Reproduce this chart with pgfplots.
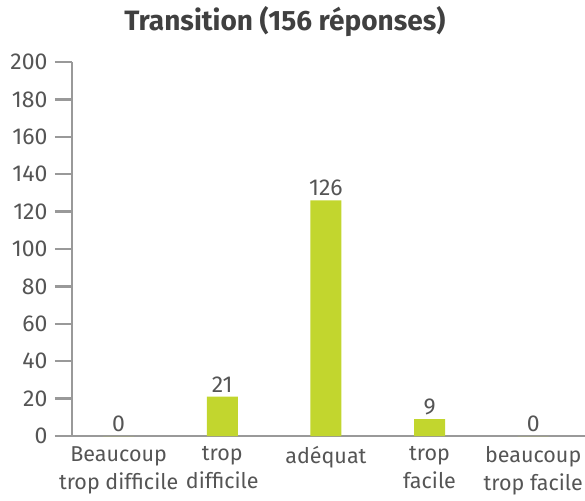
\documentclass[border=0pt]{standalone}
\usepackage{fontspec}
\setmainfont{Fira Sans}
\usepackage{pgfplots}
\pgfplotsset{compat=1.18}
\definecolor{bargreen}{HTML}{C2D62E}
\definecolor{axgray}{HTML}{999999}
\definecolor{txtgray}{HTML}{555555}
\definecolor{titlegray}{HTML}{404040}
\begin{document}
\begin{tikzpicture}
\useasboundingbox (-72pt,-64pt) rectangle (513pt,436pt);
\begin{axis}[
  at={(0,0)}, anchor=south west,
  scale only axis,
  width=513pt, height=374pt,
  xmin=-0.45, xmax=4.5,
  ymin=0, ymax=200,
  ytick={0,20,...,200},
  xtick={0,1,2,3,4},
  xticklabels={{Beaucoup\\trop difficile},{trop\\difficile},{adéquat},{trop\\facile},{beaucoup\\trop facile}},
  x tick label style={align=center, text=txtgray, font=\fontsize{21.5}{28}\selectfont, anchor=north, yshift=10pt},
  y tick label style={text=txtgray, font=\fontsize{23}{26}\selectfont, xshift=-4pt},
  /pgf/number format/assume math mode=true,
  axis x line*=bottom,
  axis y line*=left,
  axis line style={axgray, line width=2.5pt},
  x axis line style={shorten <=-17pt},
  major tick length=17pt,
  tick align=outside,
  ytick style={draw=axgray, line width=2.5pt},
  xtick style={draw=none},
  title={\textbf{Transition (156 réponses)}},
  title style={font=\fontsize{28}{32}\selectfont, text=titlegray, at={(rel axis cs:0.415,1)}, anchor=base, yshift=25pt},
  ybar, bar width=31pt,
  nodes near coords,
  nodes near coords style={text=txtgray, font=\fontsize{23}{26}\selectfont, yshift=1pt},
  clip=false,
]
\addplot[fill=bargreen, draw=none] coordinates {(0,0) (1,21) (2,126) (3,9) (4,0)};
\end{axis}
\end{tikzpicture}
\end{document}
